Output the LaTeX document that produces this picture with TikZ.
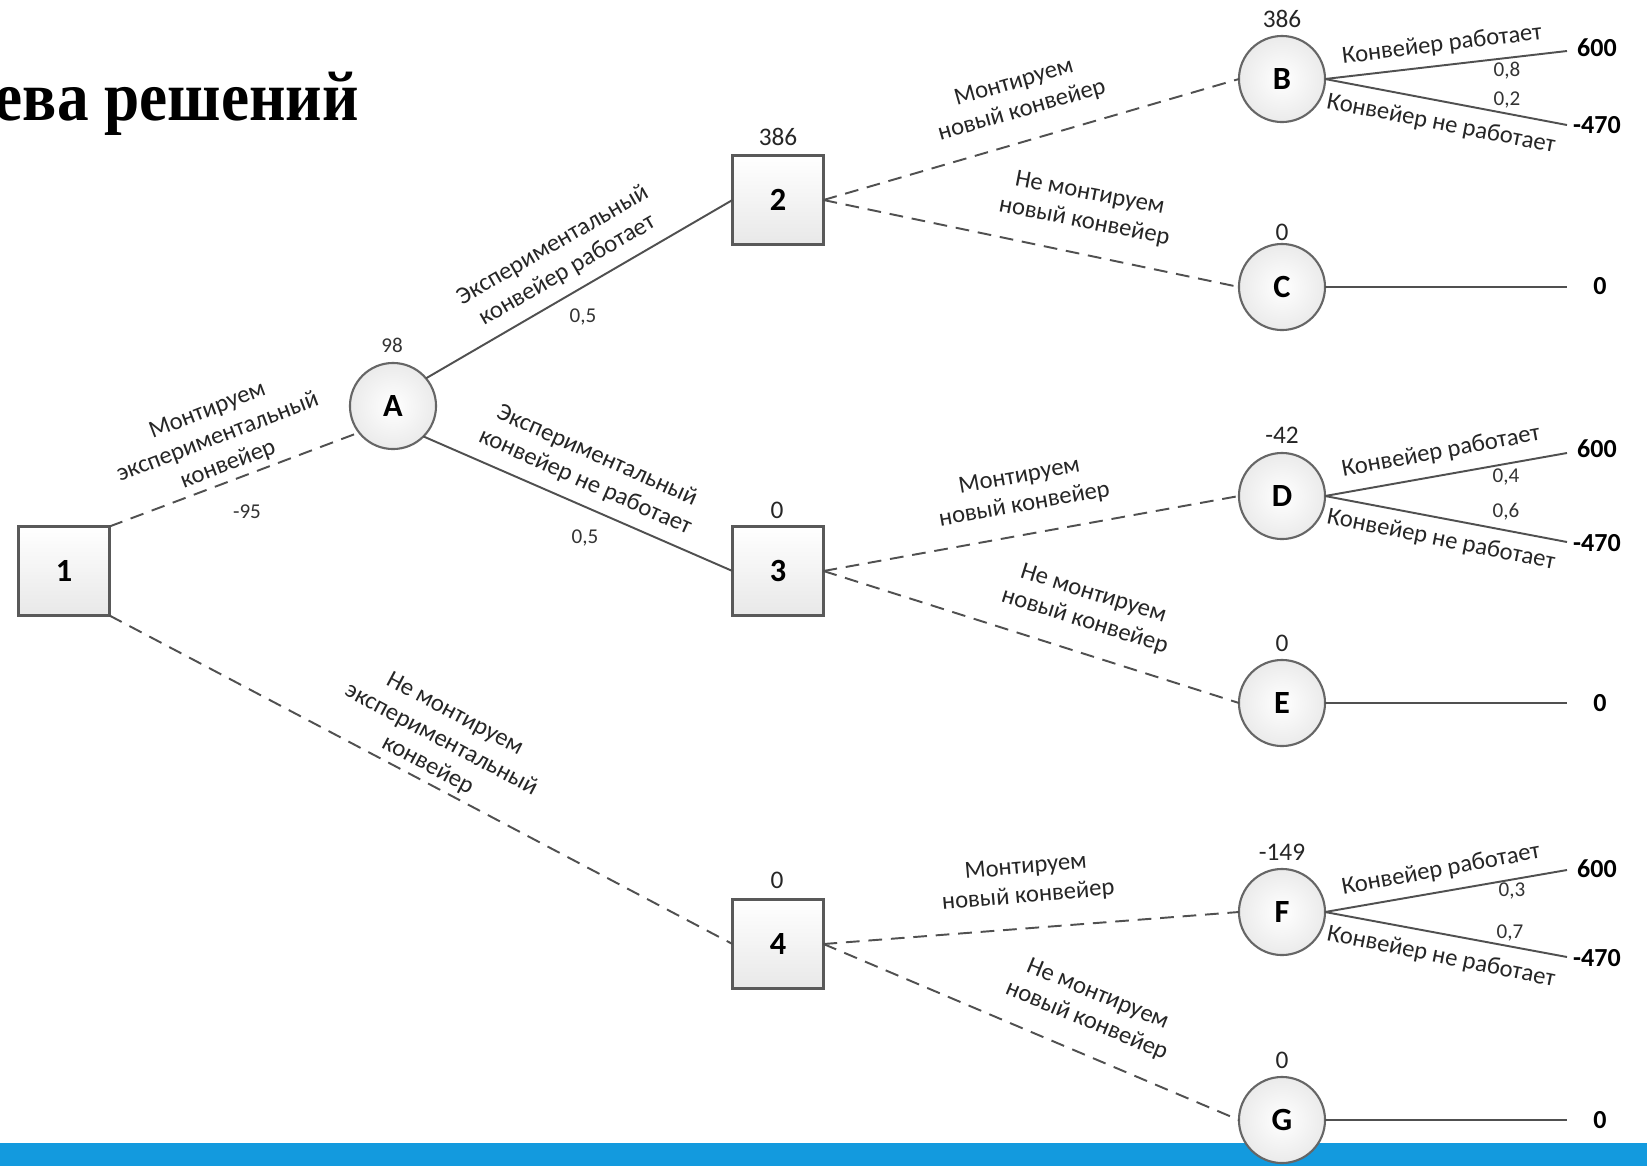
\documentclass[tikz,border=0pt]{standalone}
\usepackage{fontspec}
\setmainfont{Carlito}
\newfontfamily\titlefont{Liberation Serif}
\definecolor{bandblue}{RGB}{19,154,222}
\definecolor{lnc}{RGB}{80,80,80}
\begin{document}
\begin{tikzpicture}[x=0.01cm,y=-0.01cm,
  ln/.style={draw=lnc, line width=0.55pt},
  dl/.style={ln, dash pattern=on 3.9pt off 2.5pt},
  dec/.style={draw=black!65, line width=0.6pt, minimum width=0.91cm, minimum height=0.89cm,
    top color=white, bottom color=black!9, font=\fontsize{9.2}{10}\selectfont\bfseries, inner sep=0pt, outer sep=0pt},
  chn/.style={circle, draw=black!60, line width=0.6pt, minimum size=0.86cm, inner color=white, outer color=black!8,
    font=\fontsize{9.2}{10}\selectfont\bfseries, inner sep=0pt, outer sep=0pt},
  lab/.style={font=\fontsize{7}{8.2}\selectfont, align=center, text=black!85, inner sep=0pt},
  val/.style={font=\fontsize{6}{6.5}\selectfont, text=black!80, inner sep=0pt},
  bval/.style={font=\fontsize{7.2}{7.5}\selectfont, text=black!85, inner sep=0pt},
  pay/.style={font=\fontsize{7.4}{8}\selectfont\bfseries, inner sep=0pt},
]
\clip (0,0) rectangle (1647,1166);
\fill[white] (0,0) rectangle (1647,1166);
% title
\node[anchor=base east, font=\titlefont\bfseries\fontsize{20}{22}\selectfont, xscale=0.9] (title) at (370,120) {ева решений};
% band
\fill[bandblue] (0,1143) rectangle (1647,1166);
% nodes
\node[dec] (n1) at (64,571) {1};
\node[chn] (A) at (393,406) {A};
\node[dec] (n2) at (778,200) {2};
\node[dec] (n3) at (778,571) {3};
\node[dec] (n4) at (778,944) {4};
\node[chn] (B) at (1282,79) {B};
\node[chn] (C) at (1282,287) {C};
\node[chn] (D) at (1282,496) {D};
\node[chn] (E) at (1282,703) {E};
\node[chn] (F) at (1282,912) {F};
\node[chn] (G) at (1282,1120) {G};
% terminal points
\coordinate (tB1) at (1567,51);
\coordinate (tB2) at (1567,125);
\coordinate (tC) at (1567,287);
\coordinate (tD1) at (1567,453);
\coordinate (tD2) at (1567,542);
\coordinate (tE) at (1567,703);
\coordinate (tF1) at (1567,870);
\coordinate (tF2) at (1567,957);
\coordinate (tG) at (1567,1120);
% connectors
\draw[dl] (n1.north east) -- (A.218);
\draw[dl] (n1.south east) -- (n4.west);
\draw[ln] (A.40) -- (n2.west);
\draw[ln] (A.-45) -- (n3.west);
\draw[dl] (n2.east) -- (B.west);
\draw[dl] (n2.east) -- (C.west);
\draw[dl] (n3.east) -- (D.west);
\draw[dl] (n3.east) -- (E.west);
\draw[dl] (n4.east) -- (F.west);
\draw[dl] (n4.east) -- (G.west);
\draw[ln] (B.east) -- (tB1);
\draw[ln] (B.east) -- (tB2);
\draw[ln] (C.east) -- (tC);
\draw[ln] (D.east) -- (tD1);
\draw[ln] (D.east) -- (tD2);
\draw[ln] (E.east) -- (tE);
\draw[ln] (F.east) -- (tF1);
\draw[ln] (F.east) -- (tF2);
\draw[ln] (G.east) -- (tG);
% payoffs
\node[pay] (pB1) at (1597,48) {600};
\node[pay] (pB2) at (1597,125) {-470};
\node[pay] (pC) at (1600,286) {0};
\node[pay] (pD1) at (1597,449) {600};
\node[pay] (pD2) at (1597,543) {-470};
\node[pay] (pE) at (1600,703) {0};
\node[pay] (pF1) at (1597,869) {600};
\node[pay] (pF2) at (1597,958) {-470};
\node[pay] (pG) at (1600,1120) {0};
% values above nodes
\node[val] (v98) at (392,345) {98};
\node[val] (v95) at (247,512) {-95};
\node[bval] (v2) at (778,137) {386};
\node[bval] (v3) at (777,510) {0};
\node[bval] (v4) at (777,880) {0};
\node[bval] (vB) at (1282,19) {386};
\node[bval] (vC) at (1282,232) {0};
\node[bval] (vD) at (1282,435) {-42};
\node[bval] (vE) at (1282,643) {0};
\node[bval] (vF) at (1282,852) {-149};
\node[bval] (vG) at (1282,1060) {0};
% edge labels
\node[lab, rotate=21] (l1A) at (218,438) {Монтируем\\экспериментальный\\конвейер};
\node[lab, rotate=30] (l2) at (560,258) {Экспериментальный\\конвейер работает};
\node[val] (p2) at (583,317) {0,5};
\node[lab, rotate=-24] (l3) at (591,469) {Экспериментальный\\конвейер не работает};
\node[val] (p3) at (585,538) {0,5};
\node[lab, rotate=-28] (l14) at (441,740) {Не монтируем\\экспериментальный\\конвейер};
\node[lab, rotate=16] (l2B) at (1018,97) {Монтируем\\новый конвейер};
\node[lab, rotate=-11] (l2C) at (1087,208) {Не монтируем\\новый конвейер};
\node[lab, rotate=10] (l3D) at (1022,491) {Монтируем\\новый конвейер};
\node[lab, rotate=-17.5] (l3E) at (1089,608) {Не монтируем\\новый конвейер};
\node[lab, rotate=5] (l4F) at (1027,882) {Монтируем\\новый конвейер};
\node[lab, rotate=-22.5] (l4G) at (1092,1008) {Не монтируем\\новый конвейер};
% chance branch labels
\node[lab, rotate=7] (bB1) at (1442,45) {Конвейер работает};
\node[lab, rotate=-11] (bB2) at (1441,124) {Конвейер не работает};
\node[val] (qB1) at (1507,71) {0,8};
\node[val] (qB2) at (1507,100) {0,2};
\node[lab, rotate=10.5] (bD1) at (1441,452) {Конвейер работает};
\node[lab, rotate=-11.4] (bD2) at (1441,540) {Конвейер не работает};
\node[val] (qD1) at (1506,477) {0,4};
\node[val] (qD2) at (1506,512) {0,6};
\node[lab, rotate=10.5] (bF1) at (1441,870) {Конвейер работает};
\node[lab, rotate=-11.5] (bF2) at (1441,957) {Конвейер не работает};
\node[val] (qF1) at (1512,891) {0,3};
\node[val] (qF2) at (1510,933) {0,7};
\end{tikzpicture}
\end{document}
